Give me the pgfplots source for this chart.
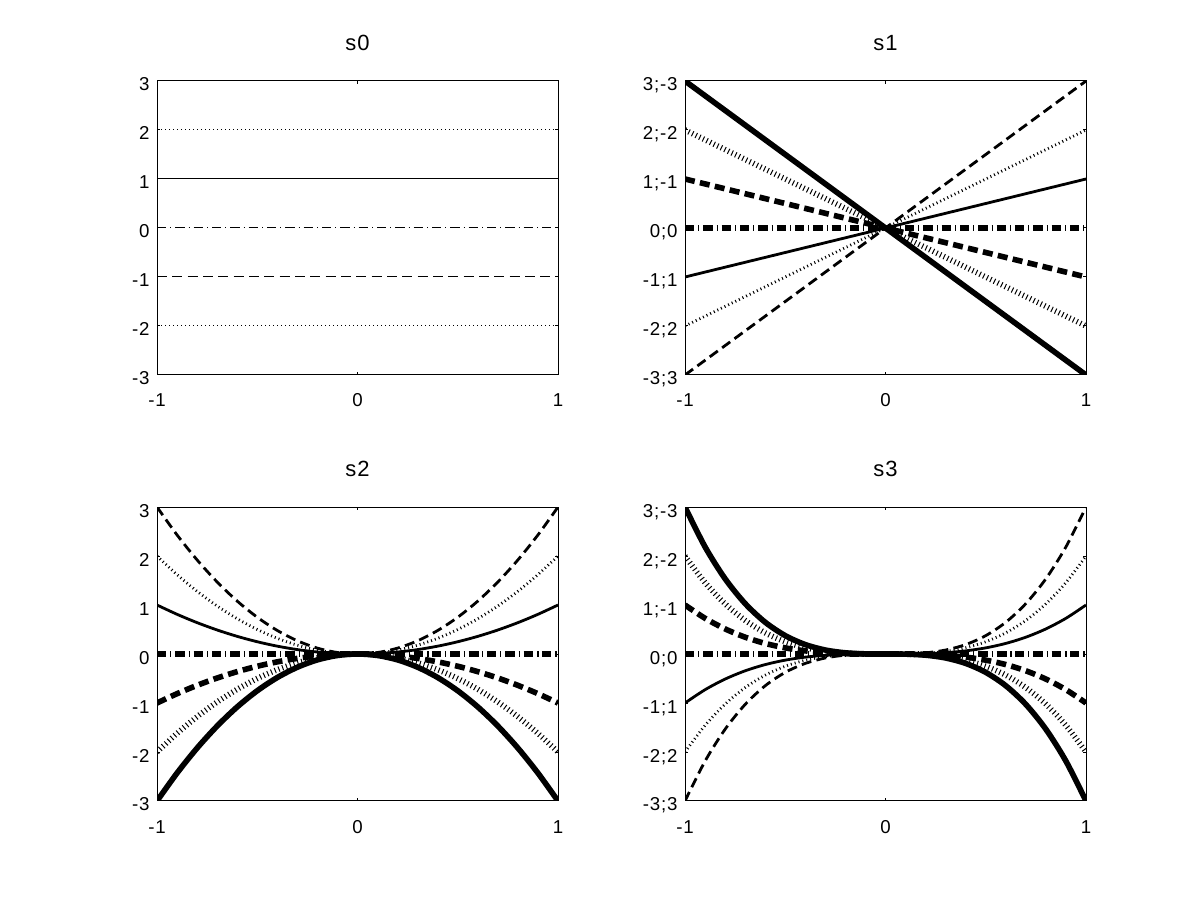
\documentclass[border=0pt]{standalone}
\usepackage{fontspec}
\setmainfont{Liberation Sans}
\newfontfamily\tickfont{Liberation Sans}[LetterSpace=4]
\newfontfamily\titlefont{Liberation Sans}[LetterSpace=4]
\usepackage{pgfplots}
\usepackage{pgfplotstable}
\pgfplotsset{compat=1.18}

\pgfplotstableread{
x a b c z d e f
-1 3 2 1 0 -1 -2 -3
1 3 2 1 0 -1 -2 -3
}\tzero

\pgfplotstableread{
x a b c z d e f
-1 -3 -2 -1 0 1 2 3
0 0 0 0 0 0 0 0
1 3 2 1 0 -1 -2 -3
}\tone

\pgfplotstableread{
x a b c z d e f
-1.0 3 2 1 0 -1 -2 -3
-0.9 2.43 1.62 0.81 0 -0.81 -1.62 -2.43
-0.8 1.92 1.28 0.64 0 -0.64 -1.28 -1.92
-0.7 1.47 0.98 0.49 0 -0.49 -0.98 -1.47
-0.6 1.08 0.72 0.36 0 -0.36 -0.72 -1.08
-0.5 0.75 0.50 0.25 0 -0.25 -0.50 -0.75
-0.4 0.48 0.32 0.16 0 -0.16 -0.32 -0.48
-0.3 0.27 0.18 0.09 0 -0.09 -0.18 -0.27
-0.2 0.12 0.08 0.04 0 -0.04 -0.08 -0.12
-0.1 0.03 0.02 0.01 0 -0.01 -0.02 -0.03
0.0 0 0 0 0 0 0 0
0.1 0.03 0.02 0.01 0 -0.01 -0.02 -0.03
0.2 0.12 0.08 0.04 0 -0.04 -0.08 -0.12
0.3 0.27 0.18 0.09 0 -0.09 -0.18 -0.27
0.4 0.48 0.32 0.16 0 -0.16 -0.32 -0.48
0.5 0.75 0.50 0.25 0 -0.25 -0.50 -0.75
0.6 1.08 0.72 0.36 0 -0.36 -0.72 -1.08
0.7 1.47 0.98 0.49 0 -0.49 -0.98 -1.47
0.8 1.92 1.28 0.64 0 -0.64 -1.28 -1.92
0.9 2.43 1.62 0.81 0 -0.81 -1.62 -2.43
1.0 3 2 1 0 -1 -2 -3
}\ttwo

\pgfplotstableread{
x a b c z d e f
-1.0 -3 -2 -1 0 1 2 3
-0.9 -2.187 -1.458 -0.729 0 0.729 1.458 2.187
-0.8 -1.536 -1.024 -0.512 0 0.512 1.024 1.536
-0.7 -1.029 -0.686 -0.343 0 0.343 0.686 1.029
-0.6 -0.648 -0.432 -0.216 0 0.216 0.432 0.648
-0.5 -0.375 -0.250 -0.125 0 0.125 0.250 0.375
-0.4 -0.192 -0.128 -0.064 0 0.064 0.128 0.192
-0.3 -0.081 -0.054 -0.027 0 0.027 0.054 0.081
-0.2 -0.024 -0.016 -0.008 0 0.008 0.016 0.024
-0.1 -0.003 -0.002 -0.001 0 0.001 0.002 0.003
0.0 0 0 0 0 0 0 0
0.1 0.003 0.002 0.001 0 -0.001 -0.002 -0.003
0.2 0.024 0.016 0.008 0 -0.008 -0.016 -0.024
0.3 0.081 0.054 0.027 0 -0.027 -0.054 -0.081
0.4 0.192 0.128 0.064 0 -0.064 -0.128 -0.192
0.5 0.375 0.250 0.125 0 -0.125 -0.250 -0.375
0.6 0.648 0.432 0.216 0 -0.216 -0.432 -0.648
0.7 1.029 0.686 0.343 0 -0.343 -0.686 -1.029
0.8 1.536 1.024 0.512 0 -0.512 -1.024 -1.536
0.9 2.187 1.458 0.729 0 -0.729 -1.458 -2.187
1.0 3 2 1 0 -1 -2 -3
}\tthree

\pgfplotsset{
  ldashed/.style={dash pattern=on 7.5pt off 4pt},
  ldotted/.style={dash pattern=on 0.75pt off 2.25pt},
  ldashdot/.style={dash pattern=on 7pt off 3pt on 0.75pt off 3pt},
  mlab/.style={
    scale only axis, width=300.75pt, height=220.5pt,
    anchor=south west,
    xmin=-1, xmax=1, ymin=-3, ymax=3,
    xtick={-1,0,1}, xticklabels={-1,0,1},
    ytick={-3,-2,-1,0,1,2,3},
    tick align=inside, major tick length=2.6pt,
    axis line style={line width=0.75pt, black},
    every tick/.style={black, line width=0.75pt},
    tick label style={font=\tickfont\fontsize{14}{16}\selectfont},
    xticklabel style={anchor=base, inner sep=0pt, yshift=-24pt},
    yticklabel style={anchor=base east, inner sep=0pt, xshift=-5.5pt, yshift=-7.5pt},
    title style={at={(0.5,1)}, anchor=base, yshift=17pt, inner sep=0pt,
      font=\titlefont\fontsize{16.5}{19}\selectfont},
    no markers,
    line cap=butt,
  },
}

\newcommand\sevenlines[3]{%
  \addplot[black, line width=#2, ldashed] table[x=x,y=a]{#1};
  \addplot[black, line width=#2, ldotted] table[x=x,y=b]{#1};
  \addplot[black, line width=#2] table[x=x,y=c]{#1};
  \addplot[black, line width=#3, ldashdot] table[x=x,y=z]{#1};
  \addplot[black, line width=#3, ldashed] table[x=x,y=d]{#1};
  \addplot[black, line width=#3, ldotted] table[x=x,y=e]{#1};
  \addplot[black, line width=#3] table[x=x,y=f]{#1};
}

\begin{document}
\begin{tikzpicture}
\path[use as bounding box] (0,0) rectangle (900pt,675pt);

\begin{axis}[mlab, at={(117.75pt,393.75pt)}, title={s0},
  yticklabels={-3,-2,-1,0,1,2,3}]
  \sevenlines{\tzero}{0.75pt}{0.75pt}
\end{axis}

\begin{axis}[mlab, at={(513.75pt,393.75pt)}, title={s1},
  yticklabels={-3;3,-2;2,-1;1,0;0,1;-1,2;-2,3;-3}]
  \sevenlines{\tone}{2.1pt}{4.2pt}
\end{axis}

\begin{axis}[mlab, at={(117.75pt,74.25pt)}, title={s2},
  yticklabels={-3,-2,-1,0,1,2,3},
  every axis plot post/.append style={smooth}]
  \sevenlines{\ttwo}{2.1pt}{4.2pt}
\end{axis}

\begin{axis}[mlab, at={(513.75pt,74.25pt)}, title={s3},
  yticklabels={-3;3,-2;2,-1;1,0;0,1;-1,2;-2,3;-3},
  every axis plot post/.append style={smooth}]
  \sevenlines{\tthree}{2.1pt}{4.2pt}
\end{axis}
\end{tikzpicture}
\end{document}
